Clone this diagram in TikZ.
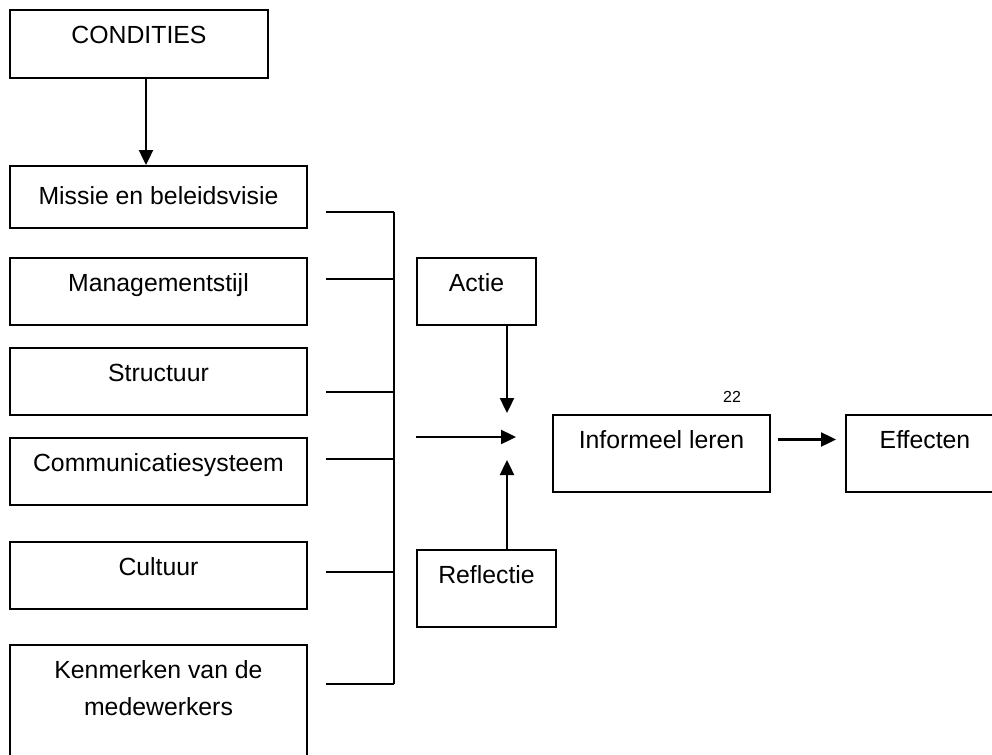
\documentclass[tikz,border=0pt]{standalone}
\usepackage{fontspec}
\setmainfont{Liberation Sans}
\usetikzlibrary{arrows.meta}

\tikzset{
  blok/.style={draw, line width=1pt, anchor=north, align=center, inner xsep=2pt, inner ysep=4pt,
    text height=12.5pt, font=\fontsize{12.4}{18.5}\selectfont},
  factor/.style={blok, minimum width=148.5pt},
  pijl/.style={line width=1.2pt, ->},
  lijn/.style={line width=1pt}
}

\begin{document}
\begin{tikzpicture}[x=0.5pt, y=-0.5pt, >={Triangle[length=7.5pt,width=7pt]}]
  \useasboundingbox (0,0) rectangle (992,755);
  \clip (0,0) rectangle (992,755);

  % Blokken
  \node (condities) at (139,9) [blok, minimum width=129pt, text depth=13.5pt] {CONDITIES};

  \node (missie) at (158.5,165) [factor, text height=15pt, text depth=8pt] {Missie en beleidsvisie};
  \node (management) at (158.5,257) [factor, text depth=13pt] {Managementstijl};
  \node (structuur) at (158.5,347) [factor, text depth=13pt] {Structuur};
  \node (communicatie) at (158.5,437) [factor, text depth=13pt] {Communicatiesysteem};
  \node (cultuur) at (158.5,541) [factor, text depth=13pt] {Cultuur};
  \node (kenmerken) at (158.5,644) [factor, text height=31pt, text depth=34pt] {Kenmerken van de\\medewerkers};

  \node (actie) at (476.5,257) [blok, minimum width=59.5pt, text depth=13pt] {Actie};
  \node (reflectie) at (486.5,549) [blok, minimum width=69.5pt, text depth=18pt] {Reflectie};

  \node (informeel) at (661.5,414) [blok, minimum width=108.5pt, text depth=18pt] {Informeel leren};
  \node (effecten) at (925,414) [blok, minimum width=79pt, text depth=18pt] {Effecten};

  \node (paginanr) at (732,397) [font=\fontsize{8}{9.6}\selectfont] {22};

  % Verbindingen
  \foreach \y [count=\i] in {212,279,392,459,572,684} {
    \coordinate (in\i) at (326,\y);
    \coordinate (bus\i) at (394,\y);
    \draw[lijn] (in\i) -- (bus\i);
  }
  \draw[lijn] (bus1) -- (bus6);

  \coordinate (samen) at (507,437);
  \coordinate (hbegin) at (416,437);
  \coordinate (heind) at (516,437);

  % Pijlen
  \draw[pijl] ([xshift=3.5pt]condities.south) -- ([xshift=3.5pt]condities.south |- missie.north);
  \draw[pijl] (hbegin) -- (heind);
  \draw[pijl] (actie.south -| samen) -- ([yshift=12pt]samen);
  \draw[pijl] (reflectie.north -| samen) -- ([yshift=-11.5pt]samen);
  \draw[pijl] ([xshift=3.5pt,yshift=7pt]informeel.east) -- ([xshift=-4.5pt,yshift=7pt]effecten.west);
\end{tikzpicture}
\end{document}
